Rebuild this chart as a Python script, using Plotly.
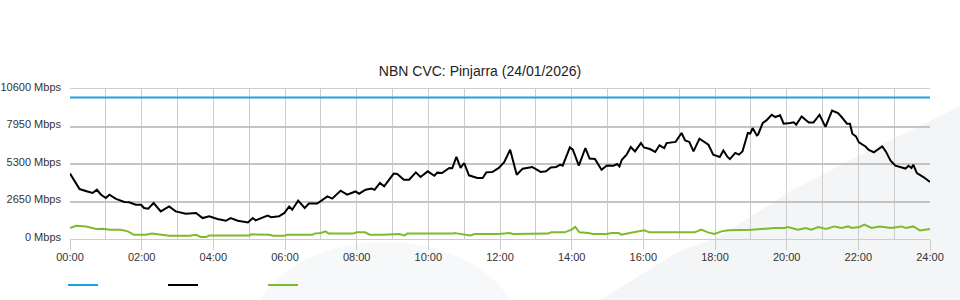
import plotly.graph_objects as go

# ---------------- data ----------------
title_text = "NBN CVC: Pinjarra (24/01/2026)"

capacity_times = ["00:00", "24:00"]
capacity_mbps = [10000, 10000]

download_times = [
    "00:00", "00:16", "00:29", "00:38", "00:45", "00:52", "01:00", "01:06", "01:17", "01:31",
    "01:39", "01:50", "01:59", "02:04", "02:11", "02:20", "02:32", "02:46", "02:57", "03:14",
    "03:31", "03:42", "03:53", "04:07", "04:21", "04:29", "04:41", "04:58", "05:06", "05:11",
    "05:20", "05:31", "05:37", "05:50", "05:59", "06:07", "06:12", "06:22", "06:33", "06:40",
    "06:54", "07:11", "07:19", "07:33", "07:44", "07:58", "08:04", "08:15", "08:25", "08:30",
    "08:39", "08:46", "09:02", "09:08", "09:19", "09:28", "09:39", "09:47", "09:59", "10:10",
    "10:15", "10:23", "10:35", "10:40", "10:47", "10:54", "11:00", "11:08", "11:22", "11:31",
    "11:37", "11:47", "11:58", "12:07", "12:17", "12:28", "12:38", "12:54", "13:08", "13:17",
    "13:25", "13:34", "13:41", "13:45", "13:57", "14:02", "14:12", "14:23", "14:30", "14:39",
    "14:50", "14:59", "15:10", "15:16", "15:20", "15:24", "15:32", "15:39", "15:46", "15:56",
    "16:01", "16:11", "16:20", "16:27", "16:35", "16:39", "16:54", "17:04", "17:10", "17:17",
    "17:24", "17:34", "17:49", "17:57", "18:08", "18:14", "18:21", "18:25", "18:34", "18:40",
    "18:46", "18:55", "18:59", "19:03", "19:10", "19:12", "19:20", "19:26", "19:35", "19:41",
    "19:49", "19:55", "20:06", "20:12", "20:16", "20:25", "20:37", "20:45", "20:55", "21:05",
    "21:16", "21:26", "21:32", "21:41", "21:46", "21:50", "21:56", "22:01", "22:12", "22:17",
    "22:26", "22:33", "22:40", "22:46", "22:54", "23:02", "23:13", "23:19", "23:24", "23:29",
    "23:32", "23:38", "23:49", "24:00",
]
download_mbps = [
    4620, 3530, 3360, 3250, 3480, 3130, 2900, 3130, 2830, 2620,
    2590, 2420, 2420, 2190, 2140, 2540, 1950, 2300, 1950, 1790,
    1840, 1480, 1600, 1410, 1290, 1480, 1290, 1170, 1480, 1310,
    1480, 1650, 1540, 1600, 1840, 2300, 2070, 2710, 2190, 2500,
    2500, 3010, 2850, 3410, 3130, 3360, 3200, 3480, 3560, 3470,
    3960, 3720, 4620, 4590, 4190, 4190, 4710, 4380, 4780, 4470,
    4690, 4660, 5020, 5000, 5800, 5020, 5370, 4500, 4310, 4310,
    4710, 4730, 5020, 5430, 6310, 4540, 4970, 5090, 4740, 4780,
    5060, 5090, 5250, 5180, 6470, 6310, 5180, 6430, 5680, 5650,
    4900, 5200, 5180, 5300, 5130, 5600, 5960, 6500, 6190, 6780,
    6470, 6360, 6150, 6620, 6430, 6780, 6860, 7490, 6970, 6860,
    6190, 7090, 6660, 5960, 5800, 6260, 5800, 5650, 6080, 5960,
    6190, 7490, 7450, 7840, 7320, 7370, 8200, 8380, 8780, 8620,
    8740, 8150, 8200, 8250, 8080, 8660, 8240, 8240, 8780, 7920,
    9070, 8900, 8620, 8150, 8150, 7440, 7250, 6830, 6540, 6310,
    6120, 6310, 6540, 6190, 5530, 5180, 5020, 4980, 5180, 5020,
    5250, 4660, 4380, 4030,
]

upload_times = [
    "00:00", "00:10", "00:27", "00:44", "00:55", "01:06", "01:25", "01:37", "01:47", "02:07",
    "02:17", "02:35", "02:46", "03:20", "03:31", "03:39", "03:48", "03:53", "05:00", "05:03",
    "05:34", "05:40", "05:59", "06:04", "06:46", "06:49", "07:00", "07:08", "07:13", "07:54",
    "08:00", "08:14", "08:22", "08:44", "09:11", "09:20", "09:25", "10:41", "10:44", "10:50",
    "11:11", "11:17", "11:58", "12:16", "12:22", "13:20", "13:26", "13:48", "14:00", "14:06",
    "14:13", "14:28", "14:36", "14:58", "15:07", "15:19", "15:23", "15:37", "15:53", "16:02",
    "16:10", "17:26", "17:37", "17:48", "17:59", "18:11", "18:22", "19:01", "19:40", "19:56",
    "20:02", "20:19", "20:32", "20:41", "20:53", "21:06", "21:20", "21:32", "21:43", "21:49",
    "22:02", "22:10", "22:22", "22:36", "22:55", "23:12", "23:20", "23:32", "23:43", "24:00",
]
upload_mbps = [
    780, 940, 890, 710, 730, 660, 660, 540, 300, 300,
    380, 300, 230, 230, 300, 140, 140, 250, 250, 330,
    300, 230, 230, 300, 300, 380, 420, 540, 380, 380,
    470, 470, 300, 300, 350, 250, 380, 380, 420, 380,
    250, 350, 350, 420, 350, 380, 470, 470, 660, 850,
    470, 420, 350, 350, 420, 420, 300, 420, 540, 610,
    470, 470, 660, 470, 350, 540, 610, 660, 780, 780,
    850, 660, 780, 660, 850, 710, 890, 780, 890, 780,
    850, 1010, 780, 890, 780, 890, 780, 890, 610, 710,
]

y_tick_values = [0, 2650, 5300, 7950, 10600]
y_tick_labels = ["0 Mbps", "2650 Mbps", "5300 Mbps", "7950 Mbps", "10600 Mbps"]
x_tick_hours = list(range(0, 25, 2))
x_tick_labels = ["%02d:00" % h for h in x_tick_hours]

series_colors = {"capacity": "#1ba1e2", "download": "#000000", "upload": "#7cbc2a"}


def to_hours(t):
    h, m = t.split(":")
    return int(h) + int(m) / 60.0


# ---------------- layout geometry ----------------
W, H = 960, 300
L, R, T, B = 70, 30, 89, 61
PW, PH = W - L - R, H - T - B


def px(x):  # pixel -> paper x
    return (x - L) / PW


def py(y):  # pixel -> paper y
    return (H - B - y) / PH


fig = go.Figure()
fig.add_trace(go.Scatter(
    x=[to_hours(t) for t in capacity_times], y=capacity_mbps, mode="lines",
    name=" ", line=dict(color=series_colors["capacity"], width=2), hoverinfo="skip"))
fig.add_trace(go.Scatter(
    x=[to_hours(t) for t in download_times], y=download_mbps, mode="lines",
    name=" ", line=dict(color=series_colors["download"], width=2)))
fig.add_trace(go.Scatter(
    x=[to_hours(t) for t in upload_times], y=upload_mbps, mode="lines",
    name=" ", line=dict(color=series_colors["upload"], width=2)))

# decorative background swooshes
bg = "#f4f5f7"
diag = [(600, 300), (678, 252), (720, 236), (789, 192), (860, 155), (932, 120), (960, 106), (960, 300)]
path = "M " + " L ".join("%.4f,%.4f" % (px(x), py(y)) for x, y in diag) + " Z"
shapes = [
    dict(type="path", xref="paper", yref="paper", path=path, fillcolor=bg, line=dict(width=0), layer="below"),
    dict(type="circle", xref="paper", yref="paper", x0=px(250), x1=px(520), y0=py(428), y1=py(242),
         fillcolor="#f7f8f9", line=dict(width=0), layer="below"),
]

grid_h = "#c4c4c4"
grid_v = "#cdcdcd"
fig.update_layout(
    width=W, height=H,
    margin=dict(l=L, r=R, t=T, b=B, pad=0, autoexpand=False),
    paper_bgcolor="white", plot_bgcolor="rgba(0,0,0,0)",
    font=dict(family="Liberation Sans, Arial, sans-serif", size=11, color="#333333"),
    title=dict(text=title_text, x=0.5, xref="container", xanchor="center",
               y=1 - 71 / H, yref="container", yanchor="middle",
               font=dict(size=14, color="#222222")),
    shapes=shapes,
    showlegend=True,
    legend=dict(orientation="h", x=px(63), xanchor="left", y=py(285), yanchor="middle",
                entrywidth=55, entrywidthmode="pixels", bgcolor="rgba(0,0,0,0)",
                font=dict(size=11), itemclick=False, itemdoubleclick=False),
    xaxis=dict(range=[0, 24], tickvals=x_tick_hours, ticktext=x_tick_labels,
               showgrid=True, gridcolor=grid_v, gridwidth=1,
               minor=dict(dtick=1, tick0=0, showgrid=True, gridcolor=grid_v, gridwidth=1),
               ticks="outside", ticklen=10, tickcolor=grid_v, tickwidth=1,
               ticklabelstandoff=-2,
               showline=True, mirror=True, linecolor=grid_v, linewidth=1,
               zeroline=False, automargin=False, fixedrange=True),
    yaxis=dict(range=[0, 10600], tickvals=y_tick_values, ticktext=y_tick_labels,
               showgrid=True, gridcolor=grid_h, gridwidth=2,
               ticks="", ticklabelstandoff=8, ticklabelshift=-2,
               showline=False, zeroline=False, automargin=False, fixedrange=True),
)

fig.write_html("out.html")
